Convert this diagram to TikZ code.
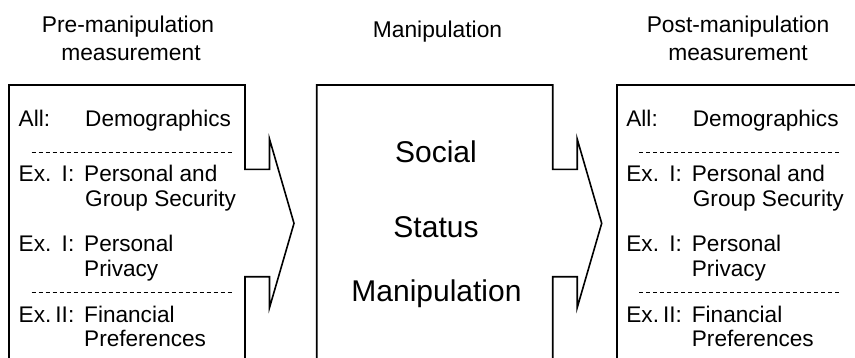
\documentclass[tikz,border=0pt]{standalone}
\usepackage{fontspec}
\setmainfont{Liberation Sans}
\begin{document}
\begin{tikzpicture}[x=1pt,y=-1pt,
  outline/.style={draw=black,line width=1.6pt,line join=miter},
  sepline/.style={draw=black,line width=0.9pt,dash pattern=on 4pt off 3pt},
  head/.style={inner sep=0pt,anchor=base,font=\fontsize{22.8}{27}\selectfont},
  itemtxt/.style={inner sep=0pt,anchor=base west,font=\fontsize{22.6}{25}\selectfont},
  itemnum/.style={inner sep=0pt,anchor=base east,font=\fontsize{22.6}{25}\selectfont},
  bigtxt/.style={inner sep=0pt,anchor=base,font=\fontsize{30}{33}\selectfont}]
\useasboundingbox (0,0) rectangle (855,357);
\clip (0,0) rectangle (855,357);

% column headings
\node[head] (preA) at (128,32.3) {Pre-manipulation};
\node[head] (preB) at (131,60.8) {measurement};
\node[head] (manH) at (437.5,37) {Manipulation};
\node[head] (postA) at (738,32.3) {Post-manipulation};
\node[head] (postB) at (738,60.8) {measurement};

% box with an arrow callout on its right side
\newcommand{\calloutbox}[1]{%
  \draw[outline,xshift=#1] (9,375) -- (9,85) -- (245,85) -- (245,169.3)
    -- (269.5,169.3) -- (269.5,139) -- (294,223.3) -- (269.5,307.7)
    -- (269.5,276.7) -- (245,276.7) -- (245,375);}
\calloutbox{0}
\calloutbox{307.7}
% right box, running past the page edge
\draw[outline] (616.7,375) -- (616.7,85) -- (880,85);

% list of measures, placed at a horizontal offset
\newcommand{\measurelist}[2]{%
  \begin{scope}[xshift=#1]
  \node[itemtxt] (#2all) at (18.5,126.7) {All:};
  \node[itemtxt] (#2demo) at (85,126.7) {Demographics};
  \draw[sepline] (31.7,152.7) -- (231.7,152.7);
  \node[itemtxt] (#2exa) at (18.5,181.7) {Ex.};
  \node[itemnum] (#2numa) at (74.5,181.7) {I:};
  \node[itemtxt] (#2seca) at (84,181.7) {Personal and};
  \node[itemtxt] (#2secb) at (85,206.7) {Group Security};
  \node[itemtxt] (#2exb) at (18.5,251.7) {Ex.};
  \node[itemnum] (#2numb) at (74.5,251.7) {I:};
  \node[itemtxt] (#2priva) at (84,251.7) {Personal};
  \node[itemtxt] (#2privb) at (84,276.7) {Privacy};
  \draw[sepline] (31.7,292.3) -- (231.7,292.3);
  \node[itemtxt] (#2exc) at (18.5,322.7) {Ex.};
  \node[itemnum] (#2numc) at (74.5,322.7) {II:};
  \node[itemtxt] (#2fina) at (84,322.7) {Financial};
  \node[itemtxt] (#2finb) at (84,346.7) {Preferences};
  \end{scope}}
\measurelist{0}{pre}
\measurelist{607.7}{post}

% manipulation box text
\node[bigtxt] (social) at (436,162.7) {Social};
\node[bigtxt] (status) at (436,237.7) {Status};
\node[bigtxt] (manip) at (436.5,301.7) {Manipulation};
\end{tikzpicture}
\end{document}
